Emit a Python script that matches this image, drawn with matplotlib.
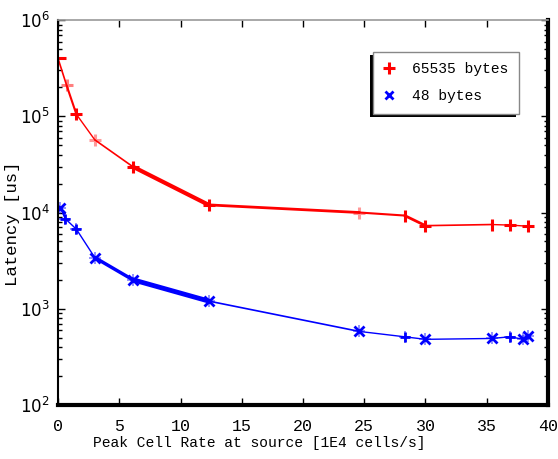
import matplotlib
matplotlib.use("Agg")
import matplotlib.pyplot as plt
from matplotlib.ticker import LogLocator, FixedLocator, NullFormatter
from matplotlib.patches import Rectangle

# Data
red_x = [0.0, 0.7, 1.5, 3.0, 6.1, 12.3, 24.6, 28.3, 30.0, 35.4, 36.9, 38.4]
red_y = [4.0e5, 2.1e5, 1.05e5, 5.7e4, 3.0e4, 1.2e4, 1.0e4, 9.3e3, 7.3e3, 7.5e3, 7.4e3, 7.2e3]
blue_x = [0.2, 0.6, 1.5, 3.0, 6.1, 12.3, 24.6, 28.3, 30.0, 35.4, 36.9, 38.0, 38.4]
blue_y = [1.12e4, 8.6e3, 6.7e3, 3.4e3, 2.0e3, 1.2e3, 5.8e2, 5.1e2, 4.8e2, 4.9e2, 5.1e2, 4.8e2, 5.2e2]
legend_labels = ["65535 bytes", "48 bytes"]
xticks = [0, 5, 10, 15, 20, 25, 30, 35, 40]

# styles
red_lw = [1.2, 1.5, 1.0, 1.2, 3.0, 2.0, 1.5, 2.0, 1.2, 1.0, 1.0]
blue_lw = [1.2, 1.0, 1.0, 2.5, 3.5, 1.2, 1.0, 1.0, 1.0, 1.0, 1.0, 1.0]
red_mk = ['_', '+', '+', '+', '+', '+', '+', '|', '+', '|', '+', '+']
red_al = [1, 0.5, 1, 0.4, 1, 1, 0.4, 1, 1, 1, 1, 1]
blue_mk = ['x', '+', '+', 'x', 'x', 'x', 'x', '+', 'x', 'x', '+', 'x', 'x']

mono = ['Liberation Mono', 'DejaVu Sans Mono']

fig = plt.figure(figsize=(5.58, 4.59), dpi=100)
ax = fig.add_axes([0.104, 0.118, 0.878, 0.838])

for i in range(len(red_x) - 1):
    ax.plot(red_x[i:i+2], red_y[i:i+2], color='red', lw=red_lw[i], solid_capstyle='round')
for i in range(len(blue_x) - 1):
    ax.plot(blue_x[i:i+2], blue_y[i:i+2], color='blue', lw=blue_lw[i], solid_capstyle='round')
for x, y, m, a in zip(red_x, red_y, red_mk, red_al):
    ax.plot([x], [y], marker=m, color='red', ms=9 if m != '_' else 11, mew=2.2, alpha=a, ls='none')
for x, y, m in zip(blue_x, blue_y, blue_mk):
    ax.plot([x], [y], marker=m, color='blue', ms=7, mew=2.0, ls='none')
    ax.plot([x], [y], marker='+', color='blue', ms=8, mew=1.2, alpha=0.5, ls='none')

ax.set_yscale('log')
ax.set_xlim(0, 40)
ax.set_ylim(1e2, 1e6)
ax.xaxis.set_major_locator(FixedLocator(xticks))
ax.yaxis.set_major_locator(LogLocator(base=10, numticks=10))
ax.yaxis.set_minor_locator(LogLocator(base=10, subs=range(2, 10), numticks=50))
ax.yaxis.set_minor_formatter(NullFormatter())
ax.tick_params(axis='both', which='both', direction='in', top=True, right=True)
ax.tick_params(axis='both', which='major', length=5, width=1.0, labelsize=12)
ax.tick_params(axis='x', which='major', pad=10)
ax.tick_params(axis='y', which='major', pad=6)
ax.tick_params(axis='y', which='minor', length=3, width=1.0)
for lab in ax.get_xticklabels():
    lab.set_family(mono)

ax.spines['left'].set_linewidth(1.5)
ax.spines['bottom'].set_linewidth(3)
ax.spines['right'].set_linewidth(3)
ax.spines['top'].set_color('#999999')
ax.spines['top'].set_linewidth(1.2)

ax.set_xlabel('Peak Cell Rate at source [1E4 cells/s]', family=mono, fontsize=10.5)
ax.xaxis.set_label_coords(0.41, -0.08)
ax.set_ylabel('Latency [us]', family=mono, fontsize=12.5)
ax.yaxis.set_label_coords(-0.078, 0.47)

h1, = ax.plot([], [], marker='+', color='red', ms=8, mew=2.2, ls='none')
h2, = ax.plot([], [], marker='x', color='blue', ms=6, mew=2.0, ls='none')
leg = ax.legend([h1, h2], legend_labels, loc='upper left', bbox_to_anchor=(0.643, 0.917),
                prop={'family': mono, 'size': 10.5}, fancybox=False, shadow=False,
                framealpha=1, edgecolor='#888888', handlelength=0.8, handletextpad=1.2,
                borderpad=0.7, labelspacing=0.9, borderaxespad=0)
leg.get_frame().set_linewidth(1.0)
leg.set_zorder(10)

fig.canvas.draw()
bb = leg.get_window_extent().transformed(fig.transFigure.inverted())
dx, dy = 3 / 558, 3 / 459
sh = Rectangle((bb.x0 - dx, bb.y0 - dy), bb.width, bb.height, transform=fig.transFigure,
               facecolor='black', edgecolor='none', zorder=9)
ax.add_artist(sh)

fig.savefig('out.png', dpi=100)
